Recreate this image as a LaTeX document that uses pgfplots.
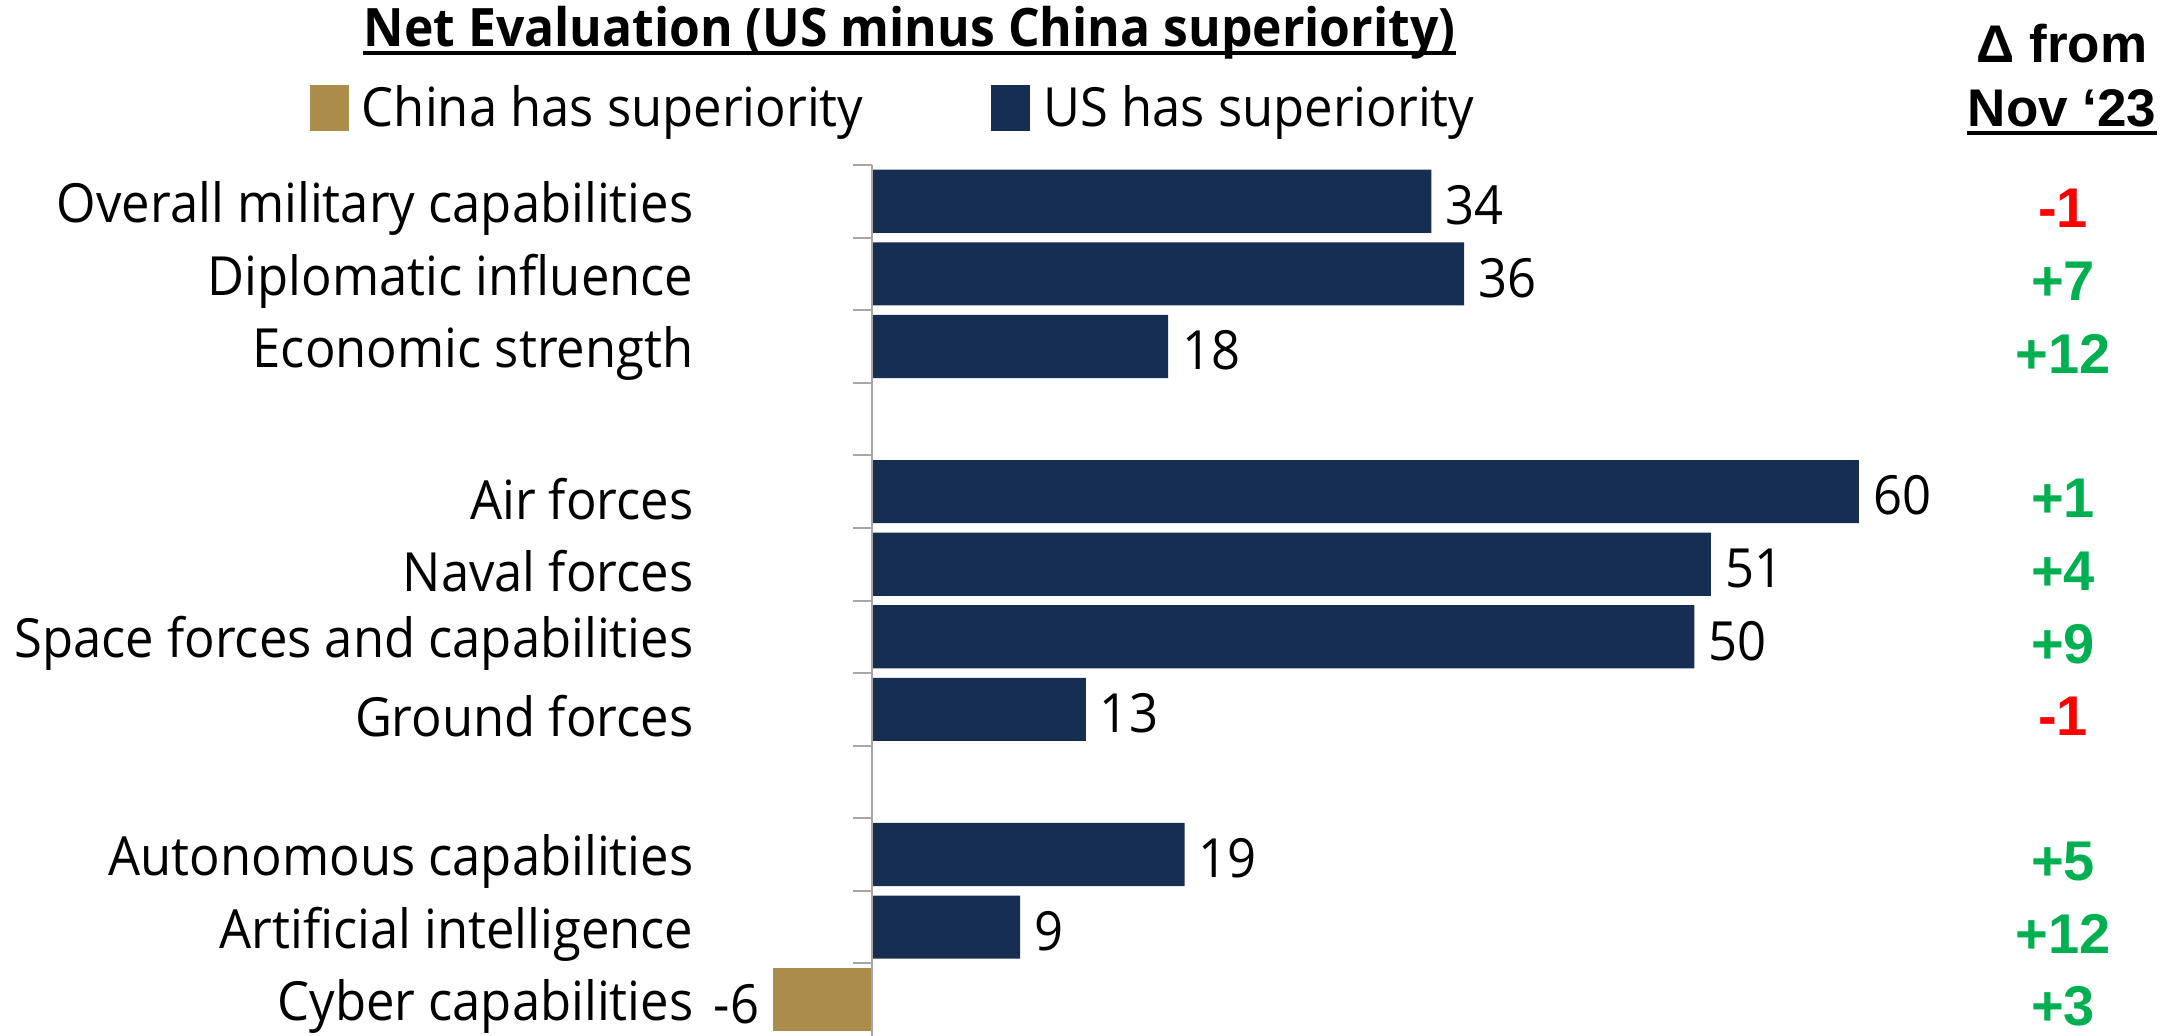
\documentclass[border=0pt]{standalone}
\usepackage{pgfplots}
\pgfplotsset{compat=1.18}
\usepackage{fontspec}
\setmainfont{Open Sans}[FakeStretch=0.94]
\newfontfamily\arialfont{Liberation Sans}

\definecolor{usnavy}{RGB}{21,46,81}
\definecolor{cngold}{RGB}{171,140,74}
\definecolor{upred}{RGB}{255,0,0}
\definecolor{upgreen}{RGB}{0,176,80}
\newcommand\mainsz{\fontsize{13.5pt}{16pt}\selectfont}
\newcommand\colsz{\arialfont\bfseries\fontsize{13.25pt}{16pt}\selectfont}
\newcommand\valsz{\arialfont\bfseries\fontsize{14pt}{16pt}\selectfont}

\pgfplotsset{sqlegend/.style={legend image code/.code={
    \fill[##1] (0pt,-5.45pt) rectangle (9.75pt,6.05pt);
    \path (11pt,0pt);}}}

\begin{document}
\begin{tikzpicture}
\useasboundingbox (0,0) rectangle (546pt,-259pt);
\begin{axis}[
    at={(176.875pt,-259pt)}, anchor=south west,
    scale only axis, width=329pt, height=217.75pt,
    xbar, bar width=0.87, bar shift=0pt,
    xmin=-10, xmax=70, ymin=-0.5, ymax=11.5, y dir=reverse,
    hide x axis,
    axis y line*=left, y axis line style={draw=none},
    ytick={0,1,2,4,5,6,7,9,10,11},
    yticklabels={Overall military capabilities, Diplomatic influence, Economic strength,
        Air forces, Naval forces, Space forces and capabilities, Ground forces,
        Autonomous capabilities, Artificial intelligence, Cyber capabilities},
    major tick length=0pt,
    tick label style={font=\mainsz, text=black},
    yticklabel style={yshift=-1.75pt},
    nodes near coords,
    nodes near coords style={font=\mainsz, text=black, yshift=-1pt},
    /pgf/number format/assume math mode=true,
    clip=false,
    legend style={at={(-0.3028,1.064)}, anchor=west, draw=none, fill=none,
        inner sep=0pt, font=\mainsz, legend columns=2,
        /tikz/every even column/.append style={column sep=30pt}},
    legend cell align=left,
]
% China has superiority
\addplot[fill=cngold, draw=none, sqlegend] coordinates {(-6,11)};
% US has superiority
\addplot[fill=usnavy, draw=none, sqlegend] coordinates {
    (34,0) (36,1) (18,2)
    (60,4) (51,5) (50,6) (13,7)
    (19,9) (9,10)
};
\legend{China has superiority, US has superiority}

% zero line with ticks between categories
\draw[gray!70, line width=0.5pt] (axis cs:0,-0.5) -- (axis cs:0,11.5);
\draw[gray!70, line width=0.5pt]
    (axis cs:0,-0.5) -- +(-4.75pt,0pt) (axis cs:0,0.5) -- +(-4.75pt,0pt)
    (axis cs:0,1.5) -- +(-4.75pt,0pt)  (axis cs:0,2.5) -- +(-4.75pt,0pt)
    (axis cs:0,3.5) -- +(-4.75pt,0pt)  (axis cs:0,4.5) -- +(-4.75pt,0pt)
    (axis cs:0,5.5) -- +(-4.75pt,0pt)  (axis cs:0,6.5) -- +(-4.75pt,0pt)
    (axis cs:0,7.5) -- +(-4.75pt,0pt)  (axis cs:0,8.5) -- +(-4.75pt,0pt)
    (axis cs:0,9.5) -- +(-4.75pt,0pt)  (axis cs:0,10.5) -- +(-4.75pt,0pt);

% change from Nov '23
\node[font=\valsz, text=upred,   yshift=-1.75pt] at (axis cs:72.4,0)  {-1};
\node[font=\valsz, text=upgreen, yshift=-1.75pt] at (axis cs:72.4,1)  {+7};
\node[font=\valsz, text=upgreen, yshift=-1.75pt] at (axis cs:72.4,2)  {+12};
\node[font=\valsz, text=upgreen, yshift=-1.75pt] at (axis cs:72.4,4)  {+1};
\node[font=\valsz, text=upgreen, yshift=-1.75pt] at (axis cs:72.4,5)  {+4};
\node[font=\valsz, text=upgreen, yshift=-1.75pt] at (axis cs:72.4,6)  {+9};
\node[font=\valsz, text=upred,   yshift=-1.75pt] at (axis cs:72.4,7)  {-1};
\node[font=\valsz, text=upgreen, yshift=-1.75pt] at (axis cs:72.4,9)  {+5};
\node[font=\valsz, text=upgreen, yshift=-1.75pt] at (axis cs:72.4,10) {+12};
\node[font=\valsz, text=upgreen, yshift=-1.75pt] at (axis cs:72.4,11) {+3};
\end{axis}

\node[font=\bfseries\fontsize{13.25pt}{16pt}\selectfont, anchor=base, inner sep=0pt] (ttl)
    at (227.4pt,-11.75pt) {Net Evaluation (US minus China superiority)};
\draw[line width=1pt] ([yshift=-1.4pt]ttl.base west) -- ([yshift=-1.4pt]ttl.base east);

\node[font=\colsz, anchor=base, inner sep=0pt] at (515.5pt,-15.75pt) {Δ from};
\node[font=\colsz, anchor=base, inner sep=0pt] (nov) at (515.5pt,-31.75pt) {Nov ‘23};
\draw[line width=1pt] ([yshift=-1.5pt]nov.base west) -- ([yshift=-1.5pt]nov.base east);
\end{tikzpicture}
\end{document}
